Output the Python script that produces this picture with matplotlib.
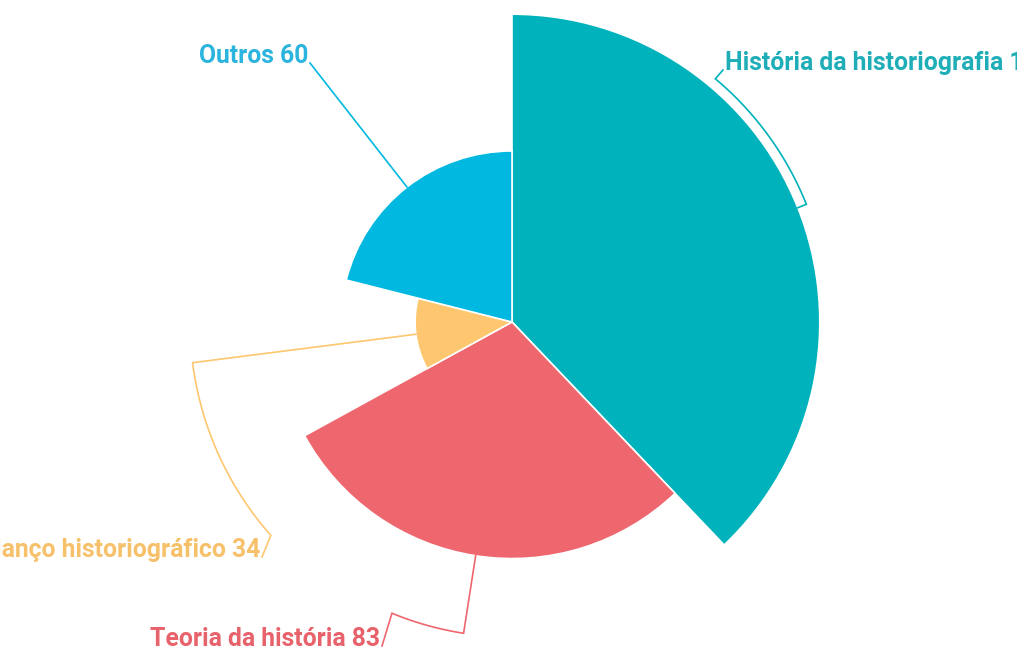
import numpy as np
import matplotlib.pyplot as plt
from matplotlib.patches import Wedge

# slice data (clockwise from 12 o'clock)
labels = ["História da historiografia", "Teoria da história", "Balanço historiográfico", "Outros"]
values = [108, 83, 34, 60]
colors = ["#00B2BB", "#EE666E", "#FEC76F", "#00B8E0"]
text_colors = ["#1FAEB8", "#E8626B", "#F7C06A", "#2BB4DE"]

# layout (pixels, y up)
W, H = 1017, 649
cx, cy = 512, 327
px_per_unit = 2.85          # radius grows with value (variable pie)
label_angle = [50.1, 247.6, 221.5, 127.8]
arc_radius = [317, 315, 322, None]
label_xy = [(725, H - 70), (380, H - 646), (260, H - 557), (308, H - 63)]
label_ha = ["left", "right", "right", "right"]


def polar(r, deg):
    a = np.radians(deg)
    return cx + r * np.cos(a), cy + r * np.sin(a)


fig = plt.figure(figsize=(W / 100, H / 100), dpi=100)
ax = fig.add_axes([0, 0, 1, 1])
ax.set_xlim(0, W)
ax.set_ylim(0, H)
ax.axis("off")

total = sum(values)
start = 90.0
for i, (v, c) in enumerate(zip(values, colors)):
    sweep = v / total * 360
    r = v * px_per_unit
    ax.add_patch(Wedge((cx, cy), r, start - sweep, start, facecolor=c,
                       edgecolor="white", linewidth=1.2))
    mid = start - sweep / 2
    start -= sweep

    # connector: out from the slice, along an arc, then to the label
    xs, ys = [], []
    x0, y0 = polar(r, mid)
    xs.append(x0)
    ys.append(y0)
    ra = arc_radius[i]
    if ra is not None:
        la = label_angle[i]
        m = mid % 360
        if abs(la - m) > 180:
            m = m + 360 if la > m else m - 360
        for t in np.linspace(m, la, 40):
            px, py = polar(ra, t)
            xs.append(px)
            ys.append(py)
    lx, ly = label_xy[i]
    xs.append(lx - 2 if label_ha[i] == "left" else lx + 2)
    ys.append(ly)
    ax.plot(xs, ys, color=c, lw=1.2, solid_joinstyle="miter")

    ax.text(lx, ly, f"{labels[i]} {v}", color=text_colors[i], fontsize=17.8,
            fontfamily="Roboto", fontweight="bold", ha=label_ha[i], va="baseline")

fig.savefig("out.png", dpi=100, facecolor="white")
